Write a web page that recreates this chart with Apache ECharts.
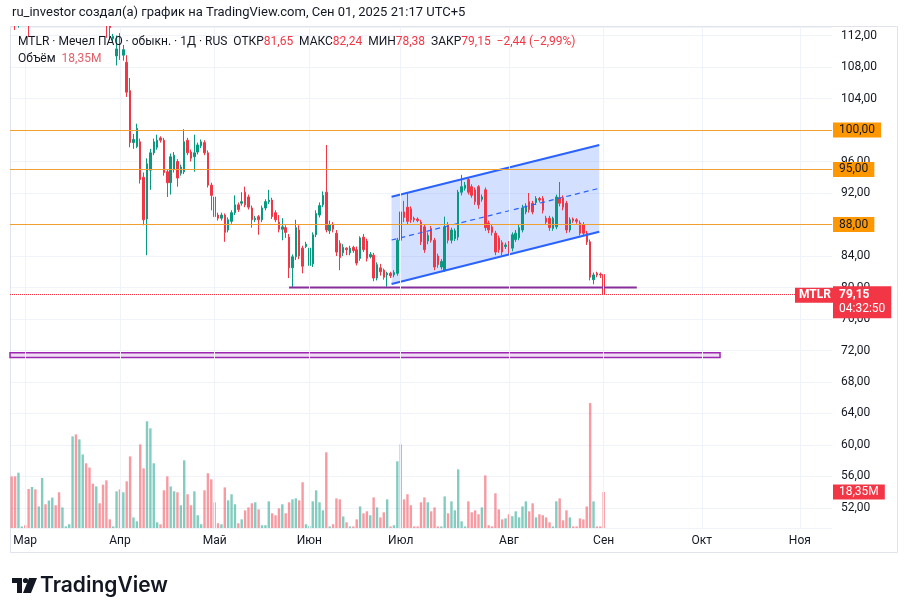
<!DOCTYPE html>
<html>
<head>
<meta charset="utf-8">
<title>MTLR</title>
<script src="https://cdn.jsdelivr.net/npm/echarts@6/dist/echarts.min.js"></script>
<style>
  html, body { margin: 0; padding: 0; background: #fff; }
  #chart { width: 908px; height: 616px; }
</style>
</head>
<body>
<div id="chart"></div>
<script>
// daily bars, [open, close, low, high]
const ohlc = [
  [114.9,114.3,113.9,115.4],[114.0,113.3,112.7,114.5],[113.3,113.8,113.0,114.3],[113.8,114.3,113.5,114.8],
  [114.5,114.4,114.1,114.8],[116.4,115.2,111.8,116.9],[115.3,116.8,115.0,117.4],[116.9,116.2,115.7,117.5],
  [116.1,117.9,115.8,118.6],[118.0,119.2,117.7,119.8],[119.2,118.6,118.0,119.6],[118.7,119.6,118.4,120.1],
  [119.6,120.2,119.1,120.7],[120.3,119.8,119.3,120.9],[119.8,118.9,118.4,120.2],[118.9,119.6,118.6,120.0],
  [119.6,119.7,119.4,119.9],[119.7,119.8,119.5,120.0],[120.0,123.0,119.6,123.8],[123.2,121.4,120.8,124.2],
  [121.4,123.4,121.0,124.4],[123.5,124.6,122.8,125.3],[124.5,122.6,122.0,124.9],[122.6,121.3,120.7,123.0],
  [121.3,120.0,119.4,121.8],[120.0,120.9,119.6,121.4],[120.9,119.7,119.2,121.2],[119.7,118.3,117.8,120.1],
  [118.2,115.6,111.7,118.6],[114.9,113.0,111.4,115.2],[111.6,111.9,111.2,112.2],[109.4,110.3,108.2,112.0],
  [111.8,109.5,108.9,112.3],[109.5,110.2,108.8,110.8],[108.6,104.8,104.2,109.5],[105.0,98.4,97.8,106.6],
  [98.4,98.8,97.6,99.5],[97.9,100.2,97.7,100.8],[98.5,93.7,93.2,98.9],[94.0,88.6,87.9,94.6],
  [88.7,95.7,84.1,96.4],[94.9,97.1,92.4,97.6],[97.1,98.5,96.8,98.9],[97.8,98.7,97.5,99.4],
  [99.0,98.7,98.4,99.2],[98.7,94.6,94.2,99.0],[94.7,93.3,91.5,95.0],[93.3,96.6,91.8,97.0],
  [95.0,96.8,94.6,97.2],[96.0,93.9,92.8,96.3],[94.5,95.3,94.2,95.6],[94.7,98.5,94.4,100.1],
  [98.7,97.1,96.8,99.0],[97.2,96.4,96.0,97.5],[96.6,97.1,94.7,99.4],[97.2,98.1,96.9,98.4],
  [98.0,98.5,97.7,98.8],[98.4,97.1,96.8,98.7],[97.1,93.0,92.7,97.4],[93.0,91.7,89.8,93.3],
  [91.5,89.0,88.6,91.8],[89.2,88.8,88.5,89.5],[88.8,89.2,88.5,89.5],[89.2,87.0,85.8,89.4],
  [87.3,88.6,87.0,88.9],[88.4,89.5,88.1,89.8],[89.5,90.5,89.2,91.7],[90.5,89.9,89.6,90.8],
  [90.7,90.9,90.4,92.1],[92.1,90.5,90.2,92.8],[91.5,90.2,89.9,91.8],[90.1,88.6,87.6,90.4],
  [88.6,88.8,88.3,89.1],[89.0,88.6,86.7,89.2],[88.6,90.1,88.3,90.4],[90.1,90.9,89.8,91.2],
  [90.9,91.1,90.6,92.4],[91.1,89.0,88.7,91.4],[89.5,88.6,88.3,89.8],[88.3,87.4,87.0,89.2],
  [87.4,87.7,86.0,88.8],[87.6,87.0,86.3,87.9],[86.4,82.5,81.2,86.8],[82.5,83.9,80.0,84.2],
  [83.9,87.6,83.5,88.6],[87.3,84.0,83.6,87.9],[85.0,82.7,81.8,85.3],[85.2,85.5,85.0,85.8],
  [82.8,85.0,82.4,85.4],[83.0,86.7,82.6,87.0],[86.7,89.4,86.4,89.8],[89.2,90.4,88.9,90.8],
  [90.5,91.7,90.2,92.2],[92.1,87.3,87.0,98.1],[87.2,88.0,86.8,88.5],[88.0,87.4,87.0,88.3],
  [86.9,84.5,84.0,87.3],[85.6,83.8,82.2,86.0],[84.4,85.1,84.0,85.5],[85.0,84.8,84.1,85.1],
  [84.4,85.0,84.1,85.3],[85.1,84.7,84.4,85.3],[84.8,83.1,82.8,85.2],[83.7,86.3,83.4,86.5],
  [86.4,84.8,84.5,86.8],[85.9,83.7,83.3,86.2],[83.9,84.2,83.7,84.5],[84.1,81.2,80.8,84.4],
  [81.2,82.9,80.9,83.2],[82.5,82.0,81.5,83.0],[82.2,81.3,81.0,82.4],[81.6,81.8,80.1,82.0],
  [81.8,81.5,81.2,82.0],[81.6,81.9,81.3,82.2],[81.8,86.0,81.5,86.3],[86.0,89.6,85.8,92.0],
  [89.6,88.9,88.3,91.0],[90.2,88.4,88.0,92.0],[90.0,88.6,88.2,90.3],[88.8,88.6,88.3,89.0],
  [88.7,88.5,88.3,88.9],[88.3,85.8,85.4,88.6],[87.7,84.8,84.4,88.0],[85.9,86.6,85.5,87.0],
  [87.5,86.0,85.7,87.8],[86.0,82.6,82.2,86.3],[84.0,82.9,82.5,84.3],[82.6,83.3,82.3,83.6],
  [82.2,87.7,82.0,89.0],[88.0,86.0,85.6,88.3],[86.0,87.3,85.6,87.6],[86.2,87.2,85.9,87.5],
  [86.4,92.1,86.0,92.4],[92.1,92.8,91.7,94.3],[92.6,93.0,92.3,93.4],[93.7,92.1,91.8,94.0],
  [92.8,91.7,91.4,93.1],[92.4,90.9,90.5,92.7],[92.8,90.5,90.0,93.0],[91.2,91.5,90.9,91.8],
  [92.4,87.6,87.2,92.7],[88.2,87.3,86.9,88.5],[87.7,87.0,86.6,88.0],[86.9,84.5,84.1,87.2],
  [86.3,84.8,84.4,86.6],[85.7,84.5,84.1,86.0],[85.2,85.4,84.9,85.7],[85.6,84.5,84.1,85.9],
  [85.0,86.7,84.6,87.0],[86.1,86.9,85.8,87.3],[86.3,87.6,86.0,88.0],[87.3,90.1,87.0,90.5],
  [89.6,90.3,89.3,90.7],[90.9,89.9,89.5,92.0],[90.7,89.6,89.3,91.0],[90.8,91.3,90.5,91.6],
  [91.3,91.1,90.8,91.5],[91.3,89.8,89.4,91.6],[88.8,88.3,88.0,89.1],[88.8,87.6,87.2,89.1],
  [87.5,88.8,87.2,89.0],[87.7,91.5,87.4,91.8],[91.4,90.7,90.3,93.4],[91.4,90.2,89.8,91.7],
  [90.7,87.3,86.9,91.0],[87.3,88.6,87.0,88.9],[88.7,88.5,88.2,88.9],[88.6,88.4,88.1,88.8],
  [88.2,86.9,86.6,88.5],[88.0,86.9,86.5,88.3],[86.9,85.8,85.4,87.2],[85.8,81.3,80.9,86.1],
  [81.0,81.6,80.4,81.9],[81.8,81.6,81.3,82.0],[81.7,81.59,81.2,81.9],[81.65,79.15,78.38,82.24]
];

// volume, millions
const volume = [
  26.3,26.3,28.2,0.8,1.4,19.9,20.9,19.7,11.0,25.5,12.1,14.0,15.5,11.6,18.2,10.5,
  0.8,1.9,46.7,47.7,45.2,37.5,33.0,30.8,22.6,21.2,12.6,22.1,24.3,4.4,0.8,18.7,
  19.7,18.2,23.8,36.5,5.4,3.4,42.6,30.4,54.4,50.8,33.0,2.9,1.9,19.2,26.3,21.2,
  18.7,18.2,11.6,34.5,17.2,11.6,18.7,6.5,1.9,19.2,27.9,24.8,13.1,2.4,1.9,20.7,
  14.1,17.2,12.1,2.4,4.4,9.0,10.5,12.6,13.1,9.5,1.4,1.4,
  13.6,7.5,6.5,10.0,12.1,7.5,13.1,14.6,15.1,14.1,23.3,1.9,1.0,13.6,19.2,13.1,9.0,38.6,
  0.8,1.9,15.1,14.6,5.9,2.9,0.8,0.8,4.4,11.0,7.5,8.5,6.5,15.6,10.5,5.4,8.0,14.6,0.8,1.4,
  34.0,42.6,14.6,17.2,11.6,0.8,0.8,13.1,15.6,13.1,8.5,10.5,0.8,0.8,16.1,7.5,13.6,9.0,29.9,3.4,0.8,
  13.6,8.0,9.0,7.0,10.5,26.8,
  1.4,0.8,17.7,9.5,4.4,4.9,7.0,6.0,8.5,5.4,11.0,13.6,8.5,12.6,5.4,7.0,6.5,5.4,2.9,0.8,
  13.6,15.1,3.9,9.0,5.4,0.8,0.8,4.9,4.4,11.0,63.7,13.6,0.8,0.8,18.35
];

const barCount = 243;
const monthTicks = [[4, 'Мар'], [32, 'Апр'], [60, 'Май'], [88, 'Июн'], [115, 'Июл'],
  [147, 'Авг'], [175, 'Сен'], [204, 'Окт'], [233, 'Ноя']];
const levels = [100, 95, 88];

// drawings, x in bar index units
const channelX = [112.3, 173.7];
const channelTop = [91.53, 98.10];
const channelMid = [86.03, 92.60];
const channelBottom = [80.44, 87.09];
const supportLine = [[82.0, 80.0], [184.8, 80.0]];
const zoneBand = [[-0.5, 71.7], [209.4, 71.1]];

const UP = '#089981', DOWN = '#f23645';
const FONT = 'Roboto, "Noto Sans", sans-serif';

const categories = [];
for (let i = 0; i < barCount; i++) categories.push(String(i));
const monthName = new Map(monthTicks);
const fmt = v => v.toFixed(2).replace('.', ',');

const chart = echarts.init(document.getElementById('chart'));

const option = {
  animation: false,
  backgroundColor: '#ffffff',
  grid: { left: 10, right: 76, top: 27, bottom: 88 },
  xAxis: [
    {
      type: 'category',
      data: categories,
      boundaryGap: true,
      axisLine: { show: false },
      axisTick: { show: false },
      splitLine: { show: false },
      axisLabel: {
        interval: i => monthName.has(i),
        formatter: (v, i) => monthName.get(i) || '',
        color: '#131722',
        fontFamily: FONT,
        fontSize: 12,
        margin: 7
      }
    },
    { type: 'value', min: -0.5, max: barCount - 0.5, show: false }
  ],
  yAxis: [
    {
      type: 'value',
      position: 'right',
      min: 49.46,
      max: 113.08,
      minInterval: 4,
      maxInterval: 4,
      splitNumber: 16,
      axisLine: { show: false },
      axisTick: { show: false },
      axisLabel: {
        showMinLabel: false,
        showMaxLabel: false,
        formatter: v => fmt(v),
        color: '#131722',
        fontFamily: FONT,
        fontSize: 12,
        margin: 9
      },
      splitLine: { lineStyle: { color: '#f0f3fa', width: 1 } }
    },
    { type: 'value', min: 0, max: 255.4, show: false }
  ],
  series: [
    {
      // vertical grid at month starts
      type: 'line', xAxisIndex: 1, yAxisIndex: 0, data: [], z: 0, silent: true,
      markLine: {
        symbol: 'none', silent: true, label: { show: false },
        lineStyle: { color: '#f0f3fa', width: 1, type: 'solid' },
        data: monthTicks.map(m => ({ xAxis: m[0] }))
      }
    },
    {
      name: 'Объём',
      type: 'bar',
      yAxisIndex: 1,
      barWidth: 2.4,
      z: 1,
      silent: true,
      data: volume.map((v, i) => ({
        value: v,
        itemStyle: { color: ohlc[i][1] >= ohlc[i][0] ? 'rgba(8,153,129,0.5)' : 'rgba(242,54,69,0.5)' }
      }))
    },
    {
      // channel fill
      type: 'custom', xAxisIndex: 1, yAxisIndex: 0, z: 1, silent: true,
      data: [[channelX[0], channelTop[0]]],
      renderItem: (params, api) => ({
        type: 'polygon',
        shape: {
          points: [
            api.coord([channelX[0], channelTop[0]]),
            api.coord([channelX[1], channelTop[1]]),
            api.coord([channelX[1], channelBottom[1]]),
            api.coord([channelX[0], channelBottom[0]])
          ]
        },
        style: { fill: 'rgba(41,98,255,0.2)' }
      })
    },
    {
      name: 'MTLR',
      type: 'candlestick',
      data: ohlc,
      barWidth: 2,
      clip: true,
      z: 2,
      silent: true,
      itemStyle: { color: UP, color0: DOWN, borderColor: UP, borderColor0: DOWN, borderWidth: 1 },
      markLine: {
        symbol: 'none', silent: true, label: { show: false },
        data: levels.map(v => ({ yAxis: v, lineStyle: { color: '#f0a030', width: 1, type: 'solid' } }))
          .concat([{ yAxis: ohlc[ohlc.length - 1][1], lineStyle: { color: DOWN, width: 1, type: 'dotted' } }])
      }
    },
    {
      type: 'line', xAxisIndex: 1, yAxisIndex: 0, z: 3, silent: true, symbol: 'none',
      data: [[channelX[0], channelTop[0]], [channelX[1], channelTop[1]]],
      lineStyle: { color: '#2962ff', width: 2 }
    },
    {
      type: 'line', xAxisIndex: 1, yAxisIndex: 0, z: 3, silent: true, symbol: 'none',
      data: [[channelX[0], channelBottom[0]], [channelX[1], channelBottom[1]]],
      lineStyle: { color: '#2962ff', width: 2 }
    },
    {
      type: 'line', xAxisIndex: 1, yAxisIndex: 0, z: 3, silent: true, symbol: 'none',
      data: [[channelX[0], channelMid[0]], [channelX[1], channelMid[1]]],
      lineStyle: { color: '#2962ff', width: 1.2, type: [5, 4] }
    },
    {
      type: 'line', xAxisIndex: 1, yAxisIndex: 0, z: 3, silent: true, symbol: 'none',
      data: supportLine,
      lineStyle: { color: '#862e9c', width: 2 },
      markArea: {
        silent: true,
        itemStyle: { color: 'rgba(156,39,176,0.15)', borderColor: '#9c27b0', borderWidth: 1.5 },
        data: [[{ coord: zoneBand[0] }, { coord: zoneBand[1] }]]
      }
    }
  ]
};

chart.setOption(option);

// header, legend, price tags
const last = ohlc[ohlc.length - 1];
const prev = ohlc[ohlc.length - 2];
const chg = last[1] - prev[1];
const pct = chg / prev[1] * 100;
const sign = n => (n < 0 ? '−' : '+') + fmt(Math.abs(n));
const lastVol = volume[volume.length - 1];
const py = (v, axis) => chart.convertToPixel({ yAxisIndex: axis }, v);

const graphics = [
  {
    // bars above the pane are cut off at its top edge
    type: 'rect', z: 50, silent: true,
    shape: { x: 0, y: 0, width: 834, height: 26 },
    style: { fill: '#ffffff' }
  },
  {
    type: 'rect', z: 0, silent: true,
    shape: { x: 10.5, y: 26.5, width: 887, height: 526 },
    style: { fill: 'none', stroke: '#e0e3eb', lineWidth: 1 }
  },
  {
    type: 'text', x: 12, y: 13, z: 100, silent: true,
    style: {
      text: 'ru_investor создал(а) график на TradingView.com, Сен 01, 2025 21:17 UTC+5',
      font: '13px ' + FONT, fill: '#131722', verticalAlign: 'middle'
    }
  },
  {
    type: 'text', x: 18, y: 42, z: 100, silent: true,
    style: {
      text: 'MTLR · Мечел ПАО · обыкн. · 1Д · RUS  ОТКР{r|' + fmt(last[0]) + '}  МАКС{r|' + fmt(last[3]) +
        '}  МИН{r|' + fmt(last[2]) + '}  ЗАКР{r|' + fmt(last[1]) + '}  {r|' + sign(chg) + ' (' + sign(pct) + '%)}',
      font: '12px ' + FONT, fill: '#131722', verticalAlign: 'middle',
      rich: { r: { fill: DOWN, font: '12px ' + FONT } }
    }
  },
  {
    type: 'text', x: 18, y: 59, z: 100, silent: true,
    style: {
      text: 'Объём  {r|' + fmt(lastVol) + 'M}',
      font: '12px ' + FONT, fill: '#131722', verticalAlign: 'middle',
      rich: { r: { fill: '#e0606a', font: '12px ' + FONT } }
    }
  }
];

levels.forEach(v => graphics.push({
  type: 'text', x: 833, y: py(v, 0), z: 110, silent: true,
  style: {
    text: fmt(v), font: '12px ' + FONT, fill: '#131722', backgroundColor: '#ff9800',
    padding: [2, 6, 1, 6], verticalAlign: 'middle'
  }
}));

graphics.push({
  type: 'text', x: 795, y: py(last[1], 0) + 1, z: 110, silent: true,
  style: {
    text: 'MTLR', font: 'bold 12px ' + FONT, fill: '#fff', backgroundColor: DOWN,
    padding: [2, 4, 1, 4], verticalAlign: 'middle'
  }
});
graphics.push({
  type: 'text', x: 833, y: py(last[1], 0) - 8, z: 110, silent: true,
  style: {
    text: '{a|' + fmt(last[1]) + '}\n{b|04:32:50}', backgroundColor: DOWN,
    padding: [2, 6, 2, 6], verticalAlign: 'top',
    rich: {
      a: { font: 'bold 12px ' + FONT, fill: '#fff', lineHeight: 14 },
      b: { font: '12px ' + FONT, fill: '#fff', lineHeight: 14 }
    }
  }
});
graphics.push({
  type: 'text', x: 833, y: py(lastVol, 1), z: 110, silent: true,
  style: {
    text: fmt(lastVol) + 'M', font: '12px ' + FONT, fill: '#fff', backgroundColor: DOWN,
    padding: [2, 6, 1, 6], verticalAlign: 'middle'
  }
});

// TradingView logo
graphics.push({
  type: 'group', x: 0, y: 0, z: 100, silent: true,
  children: [
    { type: 'polygon', shape: { points: [[12, 578], [22, 578], [22, 593], [17, 593], [17, 583], [12, 583]] }, style: { fill: '#131722' } },
    { type: 'circle', shape: { cx: 25.5, cy: 580.5, r: 2.6 }, style: { fill: '#131722' } },
    { type: 'polygon', shape: { points: [[29, 578], [37, 578], [31, 593], [23, 593]] }, style: { fill: '#131722' } },
    {
      type: 'text', x: 40, y: 585.5,
      style: { text: 'TradingView', font: '600 21px Inter, ' + FONT, fill: '#131722', verticalAlign: 'middle' }
    }
  ]
});

chart.setOption({ graphic: graphics });
</script>
</body>
</html>
